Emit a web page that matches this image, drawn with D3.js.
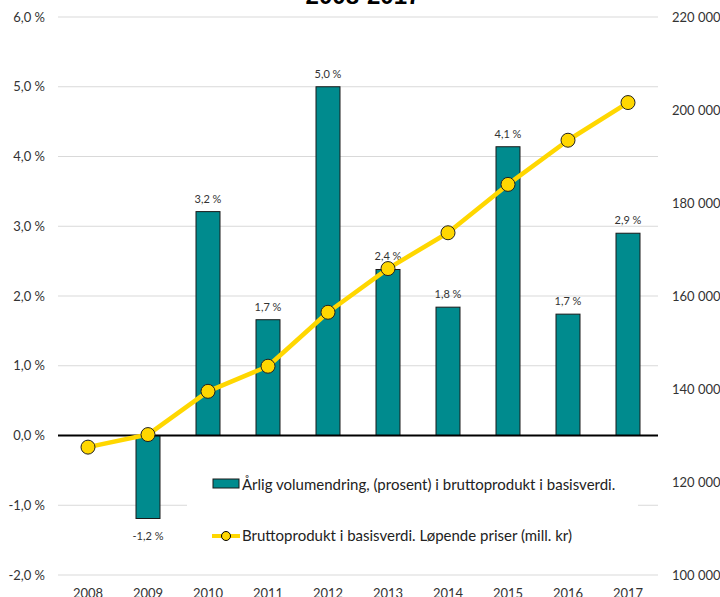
<!DOCTYPE html>
<html>
<head>
<meta charset="utf-8">
<script src="https://cdn.jsdelivr.net/npm/d3@7"></script>
<style>
  body { margin: 0; background: #fff; }
  svg { display: block; font-family: Lato, "Open Sans", sans-serif; }
</style>
</head>
<body>
<div id="chart"></div>
<script>
// Data
const years = ['2008', '2009', '2010', '2011', '2012', '2013', '2014', '2015', '2016', '2017'];
const volumeChange = [null, -1.19, 3.21, 1.66, 5.0, 2.38, 1.84, 4.14, 1.74, 2.9];
const grossProduct = [127500, 130200, 139500, 144900, 156500, 165900, 173600, 184000, 193500, 201600];
const leftTicks = [-2, -1, 0, 1, 2, 3, 4, 5, 6];
const rightTicks = [100000, 120000, 140000, 160000, 180000, 200000, 220000];
const title = '2008-2017';
const legendBar = 'Årlig volumendring, (prosent) i bruttoprodukt i basisverdi.';
const legendLine = 'Bruttoprodukt i basisverdi. Løpende priser (mill. kr)';

// Dimensions
const W = 720, H = 597;
const margin = { left: 58, right: 62, top: 17, bottom: 22 };
const width = W - margin.left - margin.right;
const height = H - margin.top - margin.bottom;

const teal = '#008b8e';
const gold = '#ffd700';

// Norwegian number style: comma decimals, space thousands, plain hyphen minus
const nb = d3.formatLocale({ decimal: ',', thousands: ' ', grouping: [3], currency: ['', ' kr'], minus: '-' });
const pct = v => nb.format('.1f')(v) + ' %';
const num = nb.format(',');

// Scales
const x = d3.scaleBand().domain(years).range([0, width]).paddingInner(0.6).paddingOuter(0.3);
const y = d3.scaleLinear().domain([-2, 6]).range([height, 0]);
const y2 = d3.scaleLinear().domain([100000, 220000]).range([height, 0]);

const svg = d3.select('#chart').append('svg')
  .attr('width', W)
  .attr('height', H);

// Title (top clipped like the original)
svg.append('text')
  .attr('x', 363)
  .attr('y', 4)
  .attr('text-anchor', 'middle')
  .attr('font-family', 'Liberation Sans, Arial, sans-serif')
  .attr('font-weight', 'bold')
  .attr('font-size', 24)
  .text(title);

const g = svg.append('g')
  .attr('transform', `translate(${margin.left},${margin.top})`);

// Gridlines
g.append('g')
  .selectAll('line')
  .data(leftTicks.filter(d => d !== 0))
  .enter().append('line')
  .attr('x1', 0).attr('x2', width)
  .attr('y1', d => y(d)).attr('y2', d => y(d))
  .attr('stroke', '#d9d9d9')
  .attr('stroke-width', 1);

// Left axis
const yAxis = g.append('g')
  .call(d3.axisLeft(y).tickValues(leftTicks).tickFormat(pct).tickSize(0).tickPadding(13));
yAxis.select('.domain').remove();
yAxis.selectAll('text').attr('font-size', 13).attr('fill', '#333').attr('font-family', 'Lato, sans-serif');

// Right axis
const y2Axis = g.append('g')
  .attr('transform', `translate(${width},0)`)
  .call(d3.axisRight(y2).tickValues(rightTicks).tickFormat(num).tickSize(0).tickPadding(14));
y2Axis.select('.domain').remove();
y2Axis.selectAll('text').attr('font-size', 13).attr('fill', '#333').attr('font-family', 'Lato, sans-serif');

// Bottom axis labels
const xAxis = g.append('g')
  .attr('transform', `translate(0,${height})`)
  .call(d3.axisBottom(x).tickSize(0).tickPadding(14));
xAxis.select('.domain').remove();
xAxis.selectAll('text').attr('font-size', 13).attr('fill', '#333').attr('font-family', 'Lato, sans-serif');

// Bars
const barData = years.map((yr, i) => ({ yr, v: volumeChange[i] })).filter(d => d.v !== null);
g.selectAll('.bar')
  .data(barData)
  .enter().append('rect')
  .attr('class', 'bar')
  .attr('x', d => x(d.yr))
  .attr('y', d => y(Math.max(0, d.v)))
  .attr('width', x.bandwidth())
  .attr('height', d => Math.abs(y(d.v) - y(0)))
  .attr('fill', teal)
  .attr('stroke', '#1a1a1a')
  .attr('stroke-width', 1);

// Bar labels
g.selectAll('.bar-label')
  .data(barData)
  .enter().append('text')
  .attr('class', 'bar-label')
  .attr('x', d => x(d.yr) + x.bandwidth() / 2)
  .attr('y', d => d.v >= 0 ? y(d.v) - 9 : y(d.v) + 21)
  .attr('text-anchor', 'middle')
  .attr('font-size', 11)
  .attr('fill', '#333')
  .text(d => pct(d.v));

// Zero line
g.append('line')
  .attr('x1', 0).attr('x2', width)
  .attr('y1', y(0)).attr('y2', y(0))
  .attr('stroke', '#000')
  .attr('stroke-width', 2);

// Legend (white box hides the gridline behind it)
const legend = svg.append('g');
legend.append('rect')
  .attr('x', 187).attr('y', 452)
  .attr('width', 451).attr('height', 106)
  .attr('fill', '#fff');
legend.append('rect')
  .attr('x', 213).attr('y', 479)
  .attr('width', 26).attr('height', 9)
  .attr('fill', teal)
  .attr('stroke', '#1a1a1a');
legend.append('text')
  .attr('x', 242).attr('y', 490)
  .attr('font-size', 15)
  .attr('fill', '#222')
  .text(legendBar);
legend.append('line')
  .attr('x1', 212).attr('x2', 240)
  .attr('y1', 536).attr('y2', 536)
  .attr('stroke', gold)
  .attr('stroke-width', 4);
legend.append('circle')
  .attr('cx', 226).attr('cy', 536).attr('r', 4.5)
  .attr('fill', gold)
  .attr('stroke', '#000');
legend.append('text')
  .attr('x', 242).attr('y', 541)
  .attr('font-size', 15)
  .attr('fill', '#222')
  .text(legendLine);

// Line series
const lineData = years.map((yr, i) => ({ yr, v: grossProduct[i] }));
const cx = d => x(d.yr) + x.bandwidth() / 2;
g.append('path')
  .datum(lineData)
  .attr('fill', 'none')
  .attr('stroke', gold)
  .attr('stroke-width', 4.5)
  .attr('stroke-linejoin', 'round')
  .attr('d', d3.line().x(cx).y(d => y2(d.v)));
g.selectAll('.dot')
  .data(lineData)
  .enter().append('circle')
  .attr('class', 'dot')
  .attr('cx', cx)
  .attr('cy', d => y2(d.v))
  .attr('r', 7)
  .attr('fill', gold)
  .attr('stroke', '#222')
  .attr('stroke-width', 1);
</script>
</body>
</html>
